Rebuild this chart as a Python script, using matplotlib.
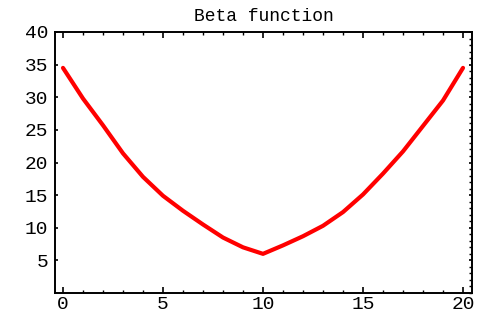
import matplotlib
matplotlib.use("Agg")
import matplotlib.pyplot as plt
from matplotlib.ticker import MultipleLocator

s = [0, 1, 2, 3, 4, 5, 6, 7, 8, 9, 10, 11, 12, 13, 14, 15, 16, 17, 18, 19, 20]
beta = [34.5, 29.8, 25.7, 21.4, 17.8, 14.9, 12.6, 10.5, 8.5, 7.0, 6.0,
        7.3, 8.7, 10.3, 12.4, 15.1, 18.3, 21.7, 25.6, 29.5, 34.5]
title = "Beta function"
xticks = [0, 5, 10, 15, 20]
yticks = [5, 10, 15, 20, 25, 30, 35, 40]

fig = plt.figure(figsize=(4.79, 3.15), dpi=100)
ax = fig.add_axes([55/479, 22/315, (472-55)/479, (293-32)/315])
ax.plot(s, beta, color="#ff0000", lw=3, solid_joinstyle="round", solid_capstyle="round")
ax.set_xlim(-0.4, 20.45)
ax.set_ylim(0, 40)
ax.set_xticks(xticks)
ax.set_yticks(yticks)
ax.xaxis.set_minor_locator(MultipleLocator(1))
ax.yaxis.set_minor_locator(MultipleLocator(1))
mono = "Liberation Mono"
ax.set_xticklabels([str(v) for v in xticks], fontfamily=mono, fontsize=14)
ax.set_yticklabels([str(v) for v in yticks], fontfamily=mono, fontsize=14)
ax.tick_params(axis="both", which="major", direction="in", length=4, width=1.2,
               top=True, right=True, colors="black")
ax.tick_params(axis="both", which="minor", direction="in", length=2.5, width=1.0,
               top=True, right=True)
ax.tick_params(axis="y", which="minor", left=False)
ax.tick_params(axis="y", which="major", left=True, length=2.5, pad=5)
ax.tick_params(axis="x", which="major", pad=2)
for sp in ax.spines.values():
    sp.set_linewidth(1.4)
ax.set_title(title, fontfamily=mono, fontsize=13, pad=8)
fig.savefig("out.png", dpi=100)
